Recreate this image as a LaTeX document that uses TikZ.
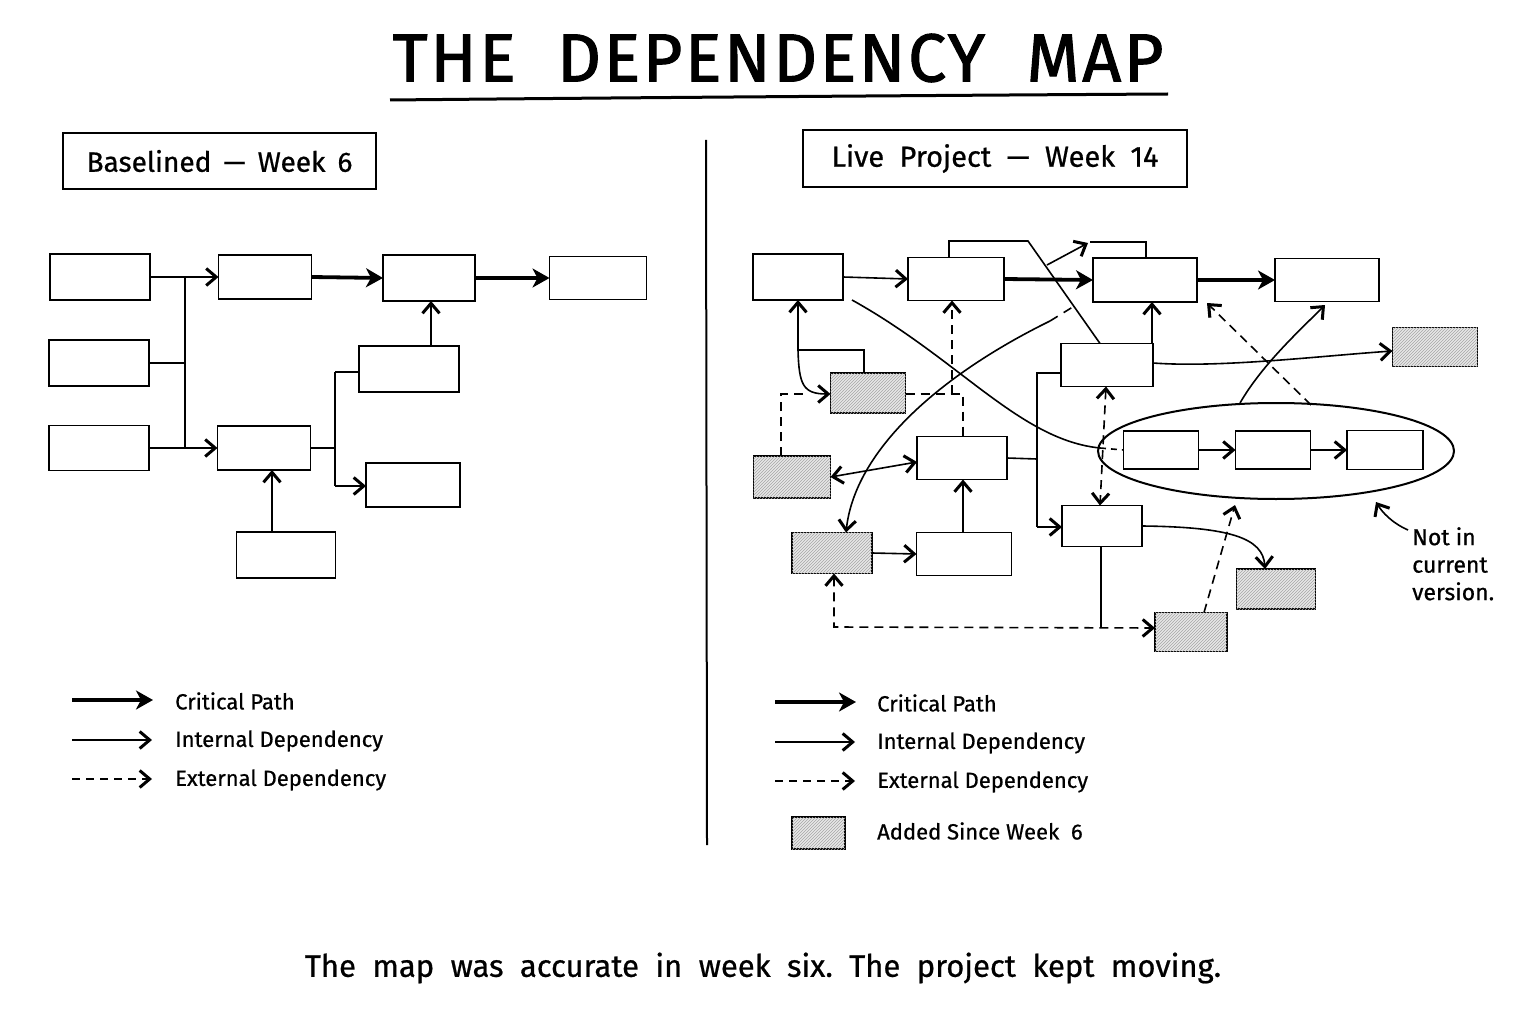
\documentclass[tikz,border=0pt]{standalone}
\usepackage{fontspec}
\setmainfont{Fira Sans}[FakeBold=0.7]
\newfontfamily\titlefont{Fira Sans}[LetterSpace=4,FakeBold=1.6]
\usetikzlibrary{arrows.meta,patterns,shapes.geometric}
\begin{document}
\begin{tikzpicture}[x=1pt,y=-1pt,
  bx/.style={draw, line width=1.9pt, inner sep=0pt, outer sep=0pt, fill=white},
  shd/.style={bx, fill=black!9, postaction={pattern=north east lines, pattern color=black!35}},
  ln/.style={line width=1.6pt},
  tip/.tip={Straight Barb[length=10pt,width=17pt,line width=3pt]},
  ar/.style={ln, -tip},
  dar/.style={ln, tip-tip},
  cr/.style={line width=3.8pt, -{Stealth[length=17pt,width=19pt,inset=5pt]}},
  dsh/.style={ln, dash pattern=on 9pt off 6pt},
  lbl/.style={font=\fontsize{22}{26}\selectfont, anchor=west, inner sep=0pt},
]
\useasboundingbox (0,0) rectangle (1536,1024);
\fill[white] (0,0) rectangle (1536,1024);

% Title
\node[font=\titlefont\fontsize{68}{78}\selectfont, inner sep=0pt] (title) at (778,58) {THE\ \ DEPENDENCY\ \ MAP};
\draw[line width=3pt] (390,100) .. controls (700,97) and (1000,95) .. (1168,94);

% Headings
\node[draw, line width=2.4pt, minimum width=313pt, minimum height=56pt, inner sep=0pt, font=\fontsize{28}{32}\selectfont] (hl) at (219.5,161) {Baselined\ \,—\ \,Week\ \,6};
\node[draw, line width=2.4pt, minimum width=384pt, minimum height=57pt, inner sep=0pt, font=\fontsize{29}{33}\selectfont] (hr) at (995,158.5) {Live\ \ Project\ \ —\ \ Week\ \ 14};

% Divider
\draw[line width=2pt] (706,140) -- (707,845);

% ===== Left network =====
\node[bx, minimum width=100pt, minimum height=46pt] (L1) at (100,277) {};
\node[bx, minimum width=100pt, minimum height=46pt] (L2) at (99,363) {};
\node[bx, minimum width=100pt, minimum height=45pt] (L3) at (99,448) {};
\node[bx, minimum width=93pt, minimum height=44pt] (L4) at (265,277) {};
\node[bx, minimum width=93pt, minimum height=44pt] (L5) at (264,448) {};
\node[bx, minimum width=92pt, minimum height=46pt] (L6) at (429,278) {};
\node[bx, minimum width=100pt, minimum height=46pt] (L7) at (409,369) {};
\node[bx, minimum width=94pt, minimum height=44pt] (L8) at (413,485) {};
\node[bx, minimum width=99pt, minimum height=46pt] (L9) at (286,555) {};
\node[bx, minimum width=97pt, minimum height=43pt] (L10) at (598,278) {};

\draw[ar] (L1.east) -- (L4.west);
\draw[ln] (185,277) -- (185,448);
\draw[ln] (L2.east) -- (185,363);
\draw[ar] (L3.east) -- (L5.west);
\draw[cr] (L4.east) -- (L6.west);
\draw[cr] (L6.east) -- (L10.west);
\draw[ar] (L7.north -| 431,0) -- (L6.south -| 431,0);
\draw[ar] (L9.north -| 272,0) -- (L5.south -| 272,0);
\draw[ln] (L5.east) -- (335,448);
\draw[ln] (335,372) -- (335,486);
\draw[ln] (335,372) -- (L7.west |- 0,372);
\draw[ar] (335,486) -- (L8.west |- 0,486);

% Left legend
\draw[cr] (72,700) -- (153,700);
\draw[ar] (72,740) -- (152,740);
\draw[ln, dash pattern=on 8pt off 6pt, -tip] (72,779) -- (152,779);
\node[lbl] (ll1) at (175,701) {Critical\ Path};
\node[lbl] (ll2) at (175,741) {Internal\ Dependency};
\node[lbl] (ll3) at (175,780) {External\ Dependency};

% ===== Right network =====
\node[bx, minimum width=90pt, minimum height=46pt] (R1) at (798,277) {};
\node[bx, minimum width=96pt, minimum height=43pt] (R2) at (956,279) {};
\node[bx, minimum width=104pt, minimum height=44pt] (R3) at (1145,280) {};
\node[bx, minimum width=104pt, minimum height=43pt] (R4) at (1327,280) {};
\node[shd, minimum width=85pt, minimum height=39pt] (R5) at (1435,347) {};
\node[bx, minimum width=92pt, minimum height=43pt] (R6) at (1107,365) {};
\node[shd, minimum width=75pt, minimum height=40pt] (R7) at (868,393) {};
\node[shd, minimum width=77pt, minimum height=42pt] (R8) at (792,477) {};
\node[bx, minimum width=90pt, minimum height=43pt] (R9) at (962,458) {};
\node[shd, minimum width=80pt, minimum height=41pt] (R10) at (832,553) {};
\node[bx, minimum width=95pt, minimum height=43pt] (R11) at (964,554) {};
\node[bx, minimum width=80pt, minimum height=41pt] (R12) at (1102,526) {};
\node[shd, minimum width=79pt, minimum height=40pt] (R13) at (1276,589) {};
\node[shd, minimum width=72pt, minimum height=39pt] (R14) at (1191,632) {};

% ellipse group
\node[ellipse, draw, line width=2pt, minimum width=356pt, minimum height=96pt, inner sep=0pt] (ell) at (1276,451) {};
\node[bx, minimum width=75pt, minimum height=38pt] (E1) at (1161,450) {};
\node[bx, minimum width=75pt, minimum height=38pt] (E2) at (1273,450) {};
\node[bx, minimum width=76pt, minimum height=39pt] (E3) at (1385,450) {};
\draw[ar] (E1.east) -- (E2.west);
\draw[ar] (E2.east) -- (E3.west);

% connectors
\draw[ar] (R1.east) -- (R2.west);
\draw[cr] (R2.east) -- (R3.west);
\draw[cr] (R3.east) -- (R4.west);
\draw[ln] (R2.north -| 949,0) -- (949,241) -- (1028,241) -- (R6.north -| 1100,0);
\draw[ar] (1047,265) -- (1088,243);
\draw[ln] (1090,242) -- (1146,242) -- (R3.north -| 1146,0);
\draw[ar] (R6.north -| 1152,0) -- (R3.south -| 1152,0);
\draw[ar] (R6.east |- 0,363) .. controls (1220,368) and (1320,356) .. (R5.west |- 0,351);
\draw[ln] (R6.west |- 0,373) -- (1037,373) -- (1037,527);
\draw[ar] (1037,527) -- (R12.west |- 0,527);
\draw[ln] (R9.east) -- (1037,459);
\draw[dsh, tip-tip] (R6.south -| 1106,0) -- (R12.north -| 1100,0);

% long curve from R1 into ellipse
\draw[ln] (852,300) .. controls (960,360) and (1020,440) .. (1100,448);
\draw[ln, dash pattern=on 6pt off 5pt] (1100,448) -- (E1.west);

% long curve from R3 area down to R10
\draw[ln, dash pattern=on 9pt off 7pt] (1050,321) -- (1076,305);
\draw[ar] (1050,321) .. controls (940,375) and (855,450) .. (R10.north -| 846,0);

\draw[dar] (R8.east) -- (R9.west |- 0,462);

% R1 / R7 cluster
\draw[ar] (798,350) -- (R1.south -| 798,0);
\draw[ln] (798,350) -- (864,350) -- (R7.north -| 864,0);
\draw[ar] (798,350) .. controls (799,385) and (803,394) .. (R7.west |- 0,394);
\draw[dsh] (R8.north -| 781,0) -- (781,394) -- (806,394);
\draw[dsh] (R7.east |- 0,394) -- (963,394) -- (R9.north -| 963,0);
\draw[dsh, -tip] (952,394) -- (R2.south -| 952,0);

\draw[ar] (R11.north -| 963,0) -- (R9.south -| 963,0);
\draw[ar] (R10.east) -- (R11.west);
\draw[ln] (R12.south -| 1101,0) -- (1101,628);
\draw[dsh, tip-tip] (R10.south -| 834,0) -- (834,627) -- (R14.west |- 0,628);
\draw[ar] (R12.east) .. controls (1230,527) and (1263,538) .. (R13.north -| 1265,0);
\draw[dsh, -tip] (R14.north -| 1204,0) -- (1235,505);
\draw[ar] (1240,403) .. controls (1262,365) and (1298,332) .. (1325,305);
\draw[dsh, -tip] (1311,405) -- (1207,303);

% annotation
\draw[ar] (1408,530) .. controls (1392,523) and (1382,512) .. (1376,502);
\node[font=\fontsize{23}{27.5}\selectfont, align=left, anchor=north west, inner sep=0pt] (note) at (1412,527) {Not\ in\\current\\version.};

% Right legend
\draw[cr] (775,702) -- (856,702);
\draw[ar] (775,742) -- (855,742);
\draw[ln, dash pattern=on 8pt off 6pt, -tip] (775,781) -- (855,781);
\node[shd, minimum width=53pt, minimum height=32pt] (lgbox) at (818.5,833) {};
\node[lbl] (rl1) at (877,703) {Critical\ Path};
\node[lbl] (rl2) at (877,743) {Internal\ Dependency};
\node[lbl] (rl3) at (877,782) {External\ Dependency};
\node[lbl] (rl4) at (877,831) {Added\ Since\ Week\ \ 6};

% caption
\node[font=\fontsize{31}{36}\selectfont, inner sep=0pt] (cap) at (763,968) {The\ \ map\ \ was\ \ accurate\ \ in\ \ week\ \ six.\ \ The\ \ project\ \ kept\ \ moving.};
\end{tikzpicture}
\end{document}
